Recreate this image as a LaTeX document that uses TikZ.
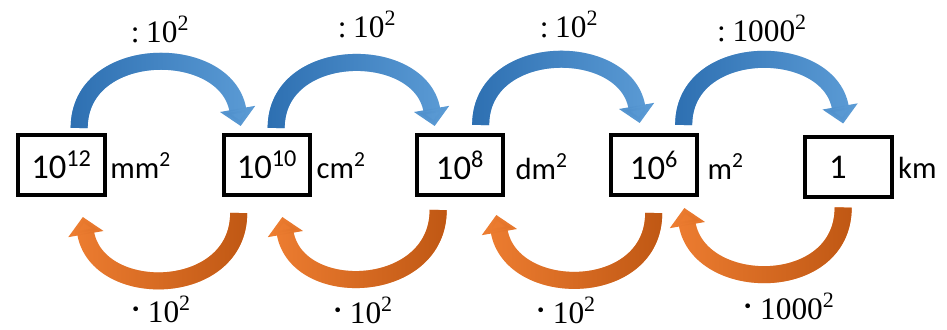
\documentclass[tikz,border=0pt]{standalone}
\usepackage{fontspec}
\setmainfont{Carlito}
\newfontfamily\factorfont{Liberation Serif}
\usetikzlibrary{arrows.meta, positioning, fadings}
\definecolor{divblue}{RGB}{91,155,213}
\definecolor{divbluedark}{RGB}{46,112,178}
\definecolor{mulorange}{RGB}{237,125,49}
\definecolor{mulorangedark}{RGB}{192,88,20}
\tikzfading[name=fade l2r, left color=transparent!0, right color=transparent!100]
\tikzfading[name=fade r2l, left color=transparent!100, right color=transparent!0]
\newcommand{\pdot}{{\fontsize{30}{30}\selectfont ·}}
\tikzset{
  box/.style={draw, line width=3pt, minimum width=65pt, minimum height=45pt,
    inner sep=0pt, font=\fontsize{26}{30}\selectfont},
  unit/.style={inner sep=0pt, font=\fontsize{23}{27}\selectfont},
  factor/.style={inner sep=0pt, font=\factorfont\fontsize{23.5}{27}\selectfont},
  divarrow/.style={line width=12.75pt, draw=divblue,
    -{Triangle[width=26pt, length=13pt]}, out=90, in=100, looseness=1.35},
  mularrow/.style={line width=12.75pt, draw=mulorange,
    -{Triangle[width=26pt, length=13pt]}, out=-90, in=-80, looseness=1.4},
}
\begin{document}
\begin{tikzpicture}[x=0.75pt, y=0.75pt]

\fill[white] (0,0) rectangle (947,329);
\useasboundingbox (0,0) rectangle (947,329);

% === Cajas ===
\node[box] (b1) at (61.5,164) {10\textsuperscript{12}};
\node[box] (b2) at (267,164) {10\textsuperscript{10}};
\node[box] (b3) at (460,164) {10\textsuperscript{8}};
\node[box] (b4) at (654,164) {10\textsuperscript{6}};
\node[box, inner xsep=18pt, text width=29pt, align=left] (b5) at (848.5,161.5) {1};

% === Unidades ===
\node[unit, right=2.5pt of b1.base east, anchor=base west] (u1) {mm\textsuperscript{2}};
\node[unit, right=3pt of b2.base east, anchor=base west] (u2) {cm\textsuperscript{2}};
\node[unit, right=7.5pt of b3.base east, anchor=base west] (u3) {dm\textsuperscript{2}};
\node[unit, right=6pt of b4.base east, anchor=base west] (u4) {m\textsuperscript{2}};
\node[unit, right=3pt of b5.base east, anchor=base west] (u5) {km};

% === Extremos de las flechas ===
\coordinate (d1s) at ([shift={(63,5)}]b1.north west);
\coordinate (d1t) at ([shift={(19,7)}]b2.north west);
\coordinate (d2s) at ([shift={(54.5,5)}]b2.north west);
\coordinate (d2t) at ([shift={(20,7)}]b3.north west);
\coordinate (d3s) at ([shift={(66,8)}]b3.north west);
\coordinate (d3t) at ([shift={(31,10)}]b4.north west);
\coordinate (d4s) at ([shift={(75,8)}]b4.north west);
\coordinate (d4t) at ([shift={(40,12)}]b5.north west);

\coordinate (m1s) at ([shift={(17,-16)}]b2.south west);
\coordinate (m1t) at ([shift={(-24,-20)}]b1.south east);
\coordinate (m2s) at ([shift={(23.5,-13)}]b3.south west);
\coordinate (m2t) at ([shift={(-30,-20)}]b2.south east);
\coordinate (m3s) at ([shift={(45,-16)}]b4.south west);
\coordinate (m3t) at ([shift={(-9,-18)}]b3.south east);
\coordinate (m4s) at ([shift={(40,-8)}]b5.south west);
\coordinate (m4t) at ([shift={(-15,-11)}]b4.south east);

% === Flechas ===
\foreach \s/\t in {d1s/d1t, d2s/d2t, d3s/d3t, d4s/d4t} {
  \draw[divarrow] (\s) to (\t);
  \draw[divarrow, draw=divbluedark, path fading=fade l2r] (\s) to (\t);
}
\foreach \s/\t in {m1s/m1t, m2s/m2t, m3s/m3t, m4s/m4t} {
  \draw[mularrow] (\s) to (\t);
  \draw[mularrow, draw=mulorangedark, path fading=fade r2l] (\s) to (\t);
}

% === Factores ===
\node[factor] (q1) at (160,300) {:\hspace{5pt}10\textsuperscript{2}};
\node[factor] (q2) at (367,305) {:\hspace{5pt}10\textsuperscript{2}};
\node[factor] (q3) at (569,305) {:\hspace{5pt}10\textsuperscript{2}};
\node[factor] (q4) at (762,301) {:\hspace{5pt}1000\textsuperscript{2}};
\node[factor] (p1) at (160,20) {\pdot\hspace{4pt}10\textsuperscript{2}};
\node[factor] (p2) at (362,19) {\pdot\hspace{4pt}10\textsuperscript{2}};
\node[factor] (p3) at (565,19) {\pdot\hspace{4pt}10\textsuperscript{2}};
\node[factor] (p4) at (788,23) {\pdot\hspace{4pt}1000\textsuperscript{2}};

\end{tikzpicture}
\end{document}
